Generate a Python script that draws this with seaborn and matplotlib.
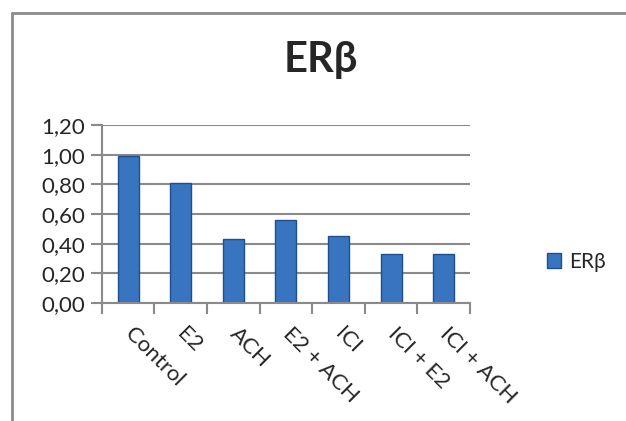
import numpy as np
import pandas as pd
import matplotlib
matplotlib.use("Agg")
import matplotlib.pyplot as plt
import seaborn as sns
from matplotlib.lines import Line2D
from matplotlib.patches import Patch
from matplotlib.ticker import FuncFormatter

categories = ["Control", "E2", "ACH", "E2 + ACH", "ICI", "ICI + E2", "ICI + ACH"]
values = [0.99, 0.81, 0.43, 0.56, 0.455, 0.33, 0.33]
series_name = "ERβ"
title = "ERβ"
y_ticks = [0.0, 0.2, 0.4, 0.6, 0.8, 1.0, 1.2]

df = pd.DataFrame({"grupo": categories, "valor": values, "serie": series_name})

sns.set_style("white")
plt.rcParams["font.family"] = ["Lato", "DejaVu Sans"]

bar_color = "#3874c0"
edge_color = "#1f4f8f"
grid_color = "#8a8a8a"

fig = plt.figure(figsize=(6.26, 4.21), dpi=100)
ax = fig.add_axes([0.1625, 0.2803, 0.5883, 0.4228])

sns.barplot(
    data=df, x="grupo", y="valor", color=bar_color, saturation=1,
    width=0.4, edgecolor=edge_color, linewidth=1.0, ax=ax,
)

ax.set_ylim(0, 1.2)
ax.set_xlim(-0.5, len(categories) - 0.5)
ax.set_yticks(y_ticks)
ax.yaxis.set_major_formatter(FuncFormatter(lambda v, _: f"{v:.2f}".replace(".", ",")))
ax.grid(axis="y", color=grid_color, linewidth=1.5)
ax.set_axisbelow(True)

for side in ["top", "right"]:
    ax.spines[side].set_visible(False)
for side in ["left", "bottom"]:
    ax.spines[side].set_color(grid_color)
    ax.spines[side].set_linewidth(1.5)

# tick marks: y ticks out-left, x ticks at category boundaries
ax.tick_params(axis="y", which="major", length=8, width=1.5, color=grid_color,
               labelsize=16, pad=4, direction="out", left=True)
ax.set_xticks(np.arange(-0.5, len(categories), 1.0), minor=True)
ax.tick_params(axis="x", which="minor", length=8, width=1.5, color=grid_color,
               direction="out", bottom=True)
ax.tick_params(axis="x", which="major", length=0, labelsize=16, pad=20)
ax.set_xticks(range(len(categories)))
ax.set_xticklabels(categories, rotation=-45, ha="left", va="center",
                   rotation_mode="anchor")
ax.set_xlabel("")
ax.set_ylabel("")

fig.text(0.512, 0.858, title, ha="center", va="center",
         fontsize=30, fontweight="bold")

handles = [Patch(facecolor=bar_color, edgecolor=edge_color, label=series_name)]
fig.legend(handles=handles, loc="center left", bbox_to_anchor=(0.857, 0.378),
           frameon=False, fontsize=15, handlelength=0.7, handleheight=0.7,
           handletextpad=0.35, borderpad=0)

# chart frame (only left and top edges are visible in the crop)
fig.add_artist(Line2D([12 / 626, 12 / 626], [0, 1 - 13 / 421],
                      transform=fig.transFigure, color="#8c8c8c", linewidth=2))
fig.add_artist(Line2D([12 / 626, 1], [1 - 13 / 421, 1 - 13 / 421],
                      transform=fig.transFigure, color="#8c8c8c", linewidth=2))

fig.savefig("out.png", dpi=100)
plt.close(fig)
